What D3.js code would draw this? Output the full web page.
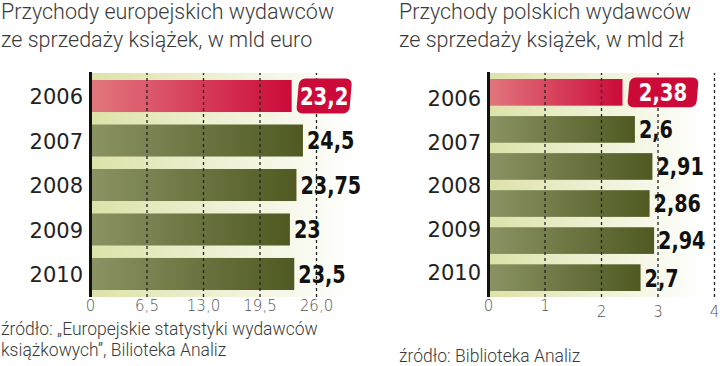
<!doctype html>
<html lang="pl">
<head>
<meta charset="utf-8">
<script src="https://d3js.org/d3.v7.min.js"></script>
<style>
  body { margin: 0; background: #fff; }
  svg { display: block; }
  .title { font-family: Roboto, "Open Sans", sans-serif; font-weight: 300; font-size: 21.5px; fill: #3a3a3a; }
  .source { font-family: Roboto, "Open Sans", sans-serif; font-weight: 300; font-size: 17.5px; fill: #3a3a3a; }
  .year text { font-family: "DejaVu Sans", sans-serif; font-size: 21px; fill: #222; }
  .tick-lbl text { font-family: "DejaVu Sans", sans-serif; font-weight: 300; font-size: 15px; fill: #555; }
  .val { font-family: "DejaVu Sans", sans-serif; font-weight: bold; font-size: 24px; fill: #111; }
  .grid line { stroke: #222; stroke-width: 1.3; stroke-dasharray: 3,3; }
</style>
</head>
<body>
<div id="chart"></div>
<script>
// dane - lewy wykres (mld euro)
const euroYears = ['2006', '2007', '2008', '2009', '2010'];
const euroValues = [23.2, 24.5, 23.75, 23, 23.5];
const euroTicks = [0, 6.5, 13, 19.5, 26];
const euroTickLabels = ['0', '6,5', '13,0', '19,5', '26,0'];

// dane - prawy wykres (mld zl), 6 slupkow na 5 podpisow jak w oryginale
const plYears = ['2006', '2007', '2008', '2009', '2010'];
const plValues = [2.38, 2.6, 2.91, 2.86, 2.94, 2.7];
const plTicks = [0, 1, 2, 3, 4];
const plTickLabels = ['0', '1', '2', '3', '4'];

const W = 720, H = 366;
const svg = d3.select('#chart').append('svg').attr('width', W).attr('height', H);

const defs = svg.append('defs');
function grad(id, c1, c2) {
  const g = defs.append('linearGradient').attr('id', id).attr('x1', '0%').attr('x2', '100%');
  g.append('stop').attr('offset', '0%').attr('stop-color', c1);
  g.append('stop').attr('offset', '100%').attr('stop-color', c2);
}
grad('gGreen', '#8b9364', '#4f5921');
grad('gRed', '#e2787e', '#cc0a3a');
grad('gBg', '#dde2a8', '#ffffff');

const fmt = v => String(v).replace('.', ',');

// brak kroju condensed - sciskamy tekst w poziomie
function squeeze(sel, k) {
  sel.each(function () {
    const w = this.getComputedTextLength();
    d3.select(this).attr('textLength', w * k).attr('lengthAdjust', 'spacingAndGlyphs');
  });
}

function drawChart(o) {
  const g = svg.append('g');
  const x = d3.scaleLinear().domain([0, o.max]).range(o.xRange);
  const top = 73, bottom = 297;

  // tytul
  g.append('text').attr('class', 'title').attr('x', o.titleX).attr('y', 19).text(o.title[0]);
  g.append('text').attr('class', 'title').attr('x', o.titleX).attr('y', 46.5).text(o.title[1]);

  // tlo
  g.append('rect')
    .attr('x', x(0)).attr('y', top)
    .attr('width', o.bgEnd - x(0)).attr('height', bottom - top)
    .attr('fill', 'url(#gBg)');

  const idx = d3.range(o.values.length);
  const yBar = d3.scaleBand().domain(idx).range([74, 296])
    .paddingInner(0.28).paddingOuter(0.135);

  g.selectAll('rect.bar')
    .data(o.values)
    .enter()
    .append('rect')
    .attr('class', 'bar')
    .attr('x', x(0))
    .attr('y', (d, i) => yBar(i))
    .attr('width', d => x(d) - x(0))
    .attr('height', yBar.bandwidth())
    .attr('fill', (d, i) => i === 0 ? 'url(#gRed)' : 'url(#gGreen)');

  // linie siatki na wierzchu
  const grid = g.append('g').attr('class', 'grid')
    .attr('transform', 'translate(0,' + bottom + ')')
    .call(d3.axisBottom(x).tickValues(o.ticks.slice(1)).tickSize(-(bottom - top)).tickFormat(''));
  grid.select('.domain').remove();
  grid.selectAll('text').remove();

  // os pionowa
  g.append('line')
    .attr('x1', x(0) + 0.5).attr('x2', x(0) + 0.5)
    .attr('y1', top - 1).attr('y2', bottom)
    .attr('stroke', '#111').attr('stroke-width', 3);

  // podpisy osi x
  const ax = g.append('g').attr('class', 'tick-lbl')
    .attr('transform', 'translate(0,' + bottom + ')')
    .call(d3.axisBottom(x).tickValues(o.ticks).tickSize(0)
      .tickFormat((d, i) => o.tickLabels[i]));
  ax.select('.domain').remove();
  ax.selectAll('text').attr('y', 0).attr('dy', (d, i) => (o.tickDrop && d >= 2 ? 1.3 : 0.95) + 'em');

  // lata
  const yLab = o.labelRange
    ? d3.scalePoint().domain(o.years).range(o.labelRange)
    : d3.scalePoint().domain(o.years)
        .range([yBar(0) + yBar.bandwidth() / 2, yBar(o.values.length - 1) + yBar.bandwidth() / 2]);
  const yl = g.append('g').attr('class', 'year')
    .attr('transform', 'translate(' + (x(0) - 7) + ',0)')
    .call(d3.axisLeft(yLab).tickSize(0));
  yl.select('.domain').remove();
  yl.selectAll('text').attr('x', 0).attr('dy', '0.36em');

  // wartosci
  o.values.forEach((v, i) => {
    const cy = yBar(i) + yBar.bandwidth() / 2;
    if (i === 0) {
      const bx = x(v) + o.boxGap, bw = o.boxW, bh = yBar.bandwidth() + 3;
      g.append('rect')
        .attr('x', bx).attr('y', cy - bh / 2)
        .attr('width', bw).attr('height', bh)
        .attr('rx', 6).attr('fill', '#cc0a3a')
        .attr('transform', 'translate(' + (cy * Math.tan(5 * Math.PI / 180)) + ',0) skewX(-5)');
      g.append('text').attr('class', 'val')
        .attr('x', bx + bw / 2).attr('y', cy).attr('dy', '0.37em')
        .attr('text-anchor', 'middle').style('fill', '#fff')
        .text(fmt(v))
        .call(squeeze, 0.82);
    } else {
      g.append('text').attr('class', 'val')
        .attr('x', x(v) + 4).attr('y', cy).attr('dy', '0.37em')
        .text(fmt(v))
        .call(squeeze, 0.8);
    }
  });

  // zrodlo
  o.source.forEach((s, i) => {
    g.append('text').attr('class', 'source')
      .attr('x', o.titleX).attr('y', o.sourceY + i * 21).text(s);
  });
}

drawChart({
  title: ['Przychody europejskich wydawców', 'ze sprzedaży książek, w mld euro'],
  titleX: 1,
  years: euroYears, values: euroValues,
  ticks: euroTicks, tickLabels: euroTickLabels, max: 26,
  xRange: [90, 316], bgEnd: 352,
  boxGap: 6, boxW: 53,
  source: ['źródło: „Europejskie statystyki wydawców', 'książkowych”, Bilioteka Analiz'],
  sourceY: 335
});

drawChart({
  title: ['Przychody polskich wydawców', 'ze sprzedaży książek, w mld zł'],
  titleX: 399,
  years: plYears, values: plValues,
  ticks: plTicks, tickLabels: plTickLabels, max: 4,
  xRange: [488, 714], bgEnd: 704, tickDrop: true,
  labelRange: [98, 272],
  boxGap: 6, boxW: 69,
  source: ['źródło: Biblioteka Analiz'],
  sourceY: 362
});
</script>
</body>
</html>
